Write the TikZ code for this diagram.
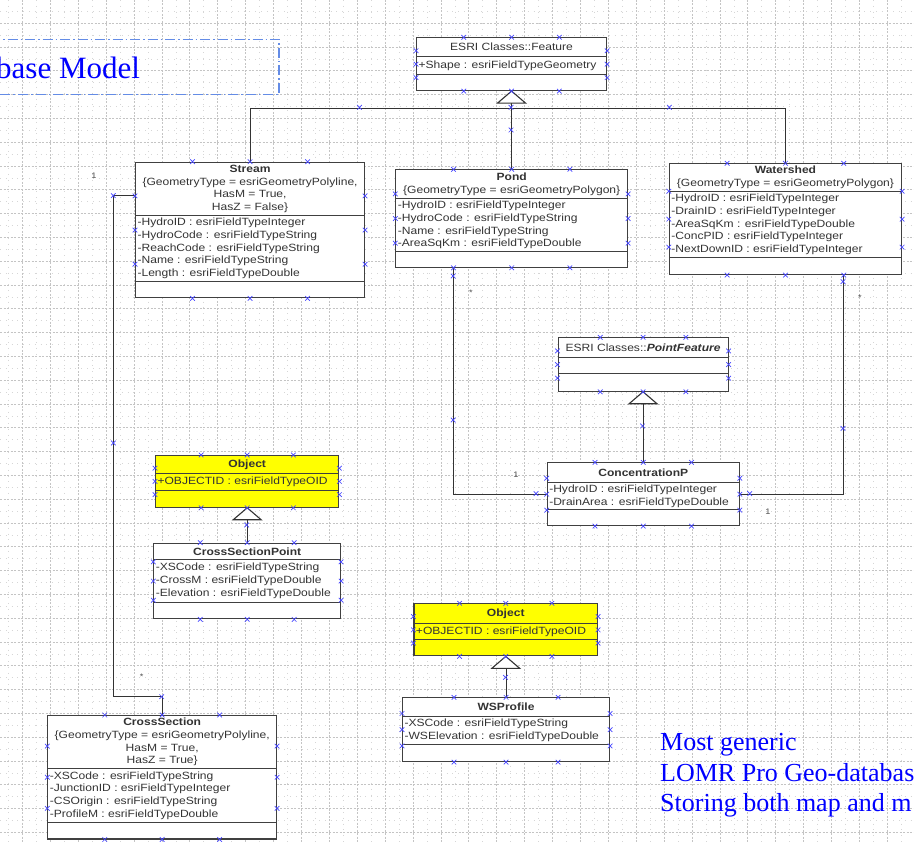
\documentclass[tikz,border=0pt]{standalone}
\usepackage{fontspec}
\usetikzlibrary{shapes.multipart,calc}
\newfontfamily\umlfont[FakeStretch=1.15]{Liberation Sans}
\newfontfamily\slidefont{Liberation Serif}
\definecolor{handleblue}{RGB}{70,70,255}
\definecolor{framecol}{RGB}{100,140,230}
\definecolor{gridcol}{RGB}{196,196,196}
\definecolor{objyellow}{RGB}{255,255,0}
\newcommand{\cmp}[3]{\parbox[b][\dimexpr#2pt-1.1pt\relax][c]{#1pt}{#3}}
\newcommand{\leftattr}{\raggedright\leftskip=2pt\relax}
\newcommand{\boxhandles}[1]{%
  \foreach \fr in {0.25,0.5,0.75} {
    \pic at ($(#1.north west)!\fr!(#1.north east)$) {handle};
    \pic at ($(#1.south west)!\fr!(#1.south east)$) {handle};
    \pic at ($(#1.north west)!\fr!(#1.south west)$) {handle};
    \pic at ($(#1.north east)!\fr!(#1.south east)$) {handle};
  }}
\tikzset{
  umlclass/.style={draw=black!75, line width=1.1pt, fill=white, rectangle split, rectangle split parts=3, inner sep=0pt, font=\umlfont\fontsize{10.5}{12.7}\selectfont, text=black!80, anchor=north west},
  conn/.style={draw=black!80, line width=1.1pt},
  genhead/.style={draw=black!80, line width=1.1pt, fill=white, line join=miter},
  mult/.style={font=\umlfont\fontsize{8}{9}\selectfont, text=black!70, inner sep=0pt},
  slidetext/.style={font=\slidefont\fontsize{26}{30}\selectfont, text=blue, anchor=base west, inner sep=0pt},
  handle/.pic={\draw[handleblue, line width=0.7pt] (-2.3,-2.3) -- (2.3,2.3) (-2.3,2.3) -- (2.3,-2.3);},
  gridmajor/.style={gridcol, line width=0.5pt, dash pattern=on 2pt off 1.5pt},
  gridminor/.style={gridcol!70, line width=0.5pt, dash pattern=on 0.8pt off 5pt}
}

\begin{document}
\begin{tikzpicture}[x=1pt, y=-1pt]
\useasboundingbox (0,0) rectangle (914,842);
\clip (0,0) rectangle (914,842);
\fill[white] (0,0) rectangle (914,842);
\foreach \k in {0,...,33} \draw[gridminor] ({36.25+27.9*(\k-1)},0) -- ++(0,842);
\foreach \k in {0,...,36} \draw[gridminor] (0,{11.2+23.8*\k}) -- ++(914,0);
\foreach \k in {0,...,33} \draw[gridmajor] ({22.3+27.9*(\k-1)},0) -- ++(0,842);
\foreach \k in {0,...,36} \draw[gridmajor] (0,{-0.7+23.8*\k}) -- ++(914,0);

\draw[framecol, line width=1.2pt, dash pattern=on 10pt off 3pt on 1.5pt off 3pt] (-10,39.3) -| (279,94.3) -- (-10,94.3);
\node[slidetext, font=\slidefont\fontsize{31}{34}\selectfont] (title) at (-4,78.3) {base Model};

\node[umlclass] (feature) at (416,37.3) {\cmp{190}{18.7}{\centering ESRI Classes::Feature}
  \nodepart{second}\cmp{190}{18}{\leftattr +Shape : esriFieldTypeGeometry}
  \nodepart{third}\cmp{190}{16}{}};
\node[umlclass] (stream) at (135,161.7) {\cmp{229}{53.3}{\centering\strut\textbf{Stream}\\\{GeometryType = esriGeometryPolyline,\\HasM = True,\\HasZ = False\}\strut}
  \nodepart{second}\cmp{229}{66.3}{\leftattr\strut-HydroID : esriFieldTypeInteger\\-HydroCode : esriFieldTypeString\\-ReachCode : esriFieldTypeString\\-Name : esriFieldTypeString\\-Length : esriFieldTypeDouble\strut}
  \nodepart{third}\cmp{229}{16}{}};
\node[umlclass] (pond) at (395.3,169.3) {\cmp{231.7}{29}{\centering\strut\textbf{Pond}\\\{GeometryType = esriGeometryPolygon\}\strut}
  \nodepart{second}\cmp{231.7}{52.7}{\leftattr\strut-HydroID : esriFieldTypeInteger\\-HydroCode : esriFieldTypeString\\-Name : esriFieldTypeString\\-AreaSqKm : esriFieldTypeDouble\strut}
  \nodepart{third}\cmp{231.7}{15.7}{}};
\node[umlclass] (watershed) at (668.8,163.3) {\cmp{232.2}{27.7}{\centering\strut\textbf{Watershed}\\\{GeometryType = esriGeometryPolygon\}\strut}
  \nodepart{second}\cmp{232.2}{66.3}{\leftattr\strut-HydroID : esriFieldTypeInteger\\-DrainID : esriFieldTypeInteger\\-AreaSqKm : esriFieldTypeDouble\\-ConcPID : esriFieldTypeInteger\\-NextDownID : esriFieldTypeInteger\strut}
  \nodepart{third}\cmp{232.2}{16.7}{}};
\node[umlclass] (pointfeat) at (557.5,337.3) {\cmp{170}{20}{\centering ESRI Classes::\textbf{\textit{PointFeature}}}
  \nodepart{second}\cmp{170}{16}{}
  \nodepart{third}\cmp{170}{17.4}{}};
\node[umlclass] (concp) at (546.7,462.3) {\cmp{192}{20}{\centering\textbf{ConcentrationP}}
  \nodepart{second}\cmp{192}{27}{\leftattr\strut-HydroID : esriFieldTypeInteger\\-DrainArea : esriFieldTypeDouble\strut}
  \nodepart{third}\cmp{192}{15.7}{}};
\node[umlclass, fill=objyellow] (objecta) at (155,455) {\cmp{183.3}{18.3}{\centering\textbf{Object}}
  \nodepart{second}\cmp{183.3}{16.7}{\leftattr +OBJECTID : esriFieldTypeOID}
  \nodepart{third}\cmp{183.3}{16.7}{}};
\node[umlclass] (crosspoint) at (153.3,542.7) {\cmp{186.7}{16.6}{\centering\textbf{CrossSectionPoint}}
  \nodepart{second}\cmp{186.7}{42.4}{\leftattr\strut-XSCode : esriFieldTypeString\\-CrossM : esriFieldTypeDouble\\-Elevation : esriFieldTypeDouble\strut}
  \nodepart{third}\cmp{186.7}{16.6}{}};
\node[umlclass, fill=objyellow] (objectb) at (413.4,603.3) {\cmp{183.6}{20}{\centering\textbf{Object}}
  \nodepart{second}\cmp{183.6}{16}{\leftattr +OBJECTID : esriFieldTypeOID}
  \nodepart{third}\cmp{183.6}{16}{}};
\node[umlclass] (wsprofile) at (402,697.3) {\cmp{207}{18.7}{\centering\textbf{WSProfile}}
  \nodepart{second}\cmp{207}{28}{\leftattr\strut-XSCode : esriFieldTypeString\\-WSElevation : esriFieldTypeDouble\strut}
  \nodepart{third}\cmp{207}{17}{}};
\node[umlclass] (crosssection) at (47.3,715) {\cmp{228.7}{53.3}{\centering\strut\textbf{CrossSection}\\\{GeometryType = esriGeometryPolyline,\\HasM = True,\\HasZ = True\}\strut}
  \nodepart{second}\cmp{228.7}{53.4}{\leftattr\strut-XSCode : esriFieldTypeString\\-JunctionID : esriFieldTypeInteger\\-CSOrigin : esriFieldTypeString\\-ProfileM : esriFieldTypeDouble\strut}
  \nodepart{third}\cmp{228.7}{16.7}{}};

\coordinate (featbase) at ($(feature.south)+(0,12)$);
\coordinate (junction) at ($(feature.south)+(0,17.3)$);
\coordinate (pfbase) at ($(pointfeat.south)+(0,12)$);
\coordinate (objabase) at ($(objecta.south)+(0,12)$);
\coordinate (objbbase) at ($(objectb.south)+(0,12)$);
\coordinate (streamside) at ($(stream.north west)!0.25!(stream.south west)$);
\coordinate (xsjog) at (113.3,696.7);
\coordinate (pondfoot) at ($(pond.south west)!0.25!(pond.south east)$);
\coordinate (shedfoot) at ($(watershed.south west)!0.75!(watershed.south east)$);

\draw[conn] (stream.north) |- (junction) -| (watershed.north);
\draw[conn] (pond.north) -- (pond.north |- featbase);
\draw[genhead] (feature.south) -- ++(-14,12) -- ++(28,0) -- cycle;
\draw[conn] (concp.north) -- (concp.north |- pfbase);
\draw[genhead] (pointfeat.south) -- ++(-14,12) -- ++(28,0) -- cycle;
\draw[conn] (crosspoint.north) -- (crosspoint.north |- objabase);
\draw[genhead] (objecta.south) -- ++(-14,12) -- ++(28,0) -- cycle;
\draw[conn] (wsprofile.north) -- (wsprofile.north |- objbbase);
\draw[genhead] (objectb.south) -- ++(-14,12) -- ++(28,0) -- cycle;
\draw[conn] (streamside) -| (xsjog) -| (crosssection.north);
\draw[conn] (pondfoot) |- (concp.west);
\draw[conn] (shedfoot) |- (concp.east);

\node[mult] (mstream) at (94,176) {1};
\node[mult] (mcross) at (141.7,677) {*};
\node[mult] (mpond) at (471,292.5) {*};
\node[mult] (mpondcp) at (516,475) {1};
\node[mult] (mshed) at (860,297.5) {*};
\node[mult] (mshedcp) at (768,512) {1};

\foreach \n in {feature,stream,pond,watershed,pointfeat,concp,objecta,crosspoint,objectb,wsprofile,crosssection} {\boxhandles{\n}}
\foreach \p in {(359.5,107.3),(511,107.3),(669.4,107.3),(511,130),(113.3,195.6),(113.3,443),(161.7,696.7),(453.2,276),(453.2,420),(536,493.6),(843,281.7),(843,428.3),(749.7,493.6),(642.5,426),(246.7,525),(505.5,677.3)} \pic at \p {handle};

\node[slidetext] (generic) at (660,750.7) {Most generic};
\node[slidetext] (lomr) at (660,781.7) {LOMR Pro Geo-databas};
\node[slidetext] (storing) at (660,811.7) {Storing both map and m};
\end{tikzpicture}
\end{document}
